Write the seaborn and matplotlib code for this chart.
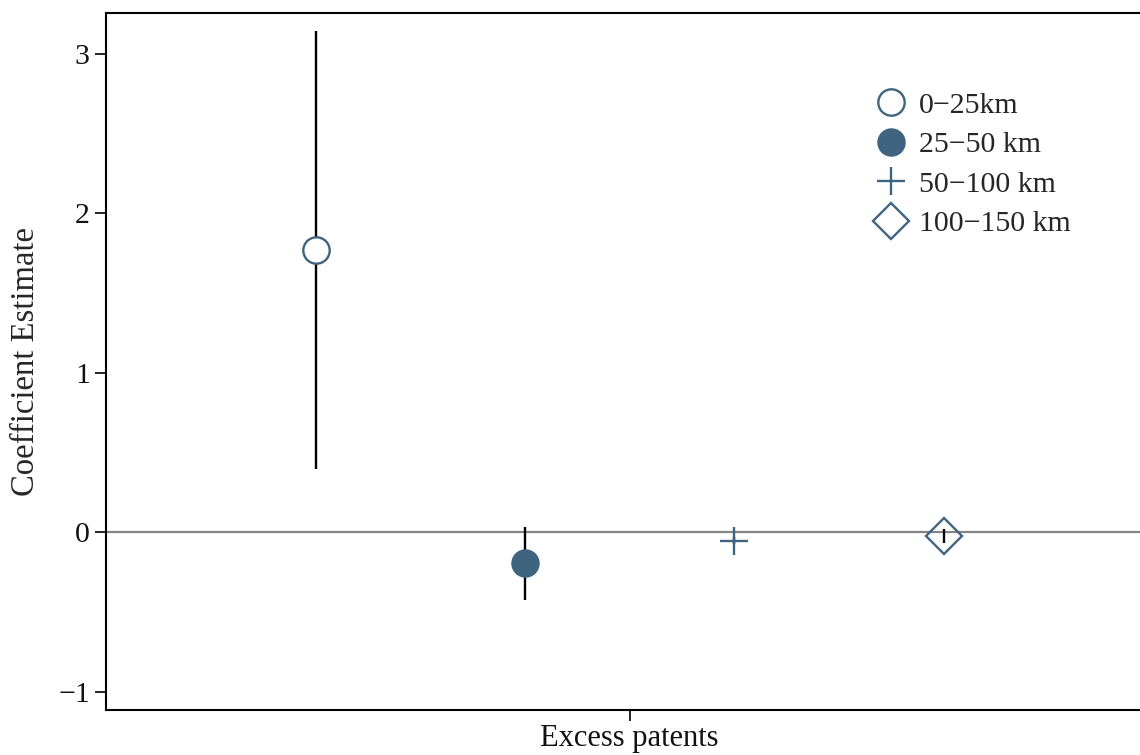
import matplotlib
matplotlib.use("Agg")
import matplotlib.pyplot as plt
from matplotlib.lines import Line2D
import seaborn as sns
import pandas as pd

# Coefficient estimates and 95% confidence bounds by distance band
bands = ["0\u221225km", "25\u221250 km", "50\u2212100 km", "100\u2212150 km"]
estimates = [1.767, -0.194, -0.053, -0.023]
ci_low = [0.396, -0.424, -0.075, -0.069]
ci_high = [3.143, 0.035, -0.031, 0.019]
outcome_label = "Excess patents"

df = pd.DataFrame({"band": bands, "estimate": estimates,
                   "lo": ci_low, "hi": ci_high})
df["pos"] = range(1, len(df) + 1)

sns.set_theme(style="ticks")
plt.rcParams["font.family"] = ["Liberation Serif", "DejaVu Serif"]
plt.rcParams["mathtext.fontset"] = "dejavuserif"

col = "#3e6480"
fig = plt.figure(figsize=(11.4, 7.55), dpi=100)
ax = fig.add_axes([0.0934, 0.0596, 0.918, 0.9232])

# reference line at zero
ax.axhline(0, color="#858585", lw=1.6, zorder=1)

# confidence intervals
ax.vlines(df["pos"], df["lo"], df["hi"], color="black", lw=1.7, zorder=2)

styles = [
    dict(marker="o", ms=19, mfc="white", mec=col, mew=1.7),
    dict(marker="o", ms=20.5, mfc=col, mec=col, mew=0),
    dict(marker="+", ms=20, mfc=col, mec=col, mew=1.7),
    dict(marker="D", ms=18.5, mfc="none", mec=col, mew=1.7),
]

handles = []
for (_, row), st in zip(df.iterrows(), styles):
    sub = df[df["band"] == row["band"]]
    sns.lineplot(data=sub, x="pos", y="estimate", ax=ax, linestyle="none",
                 color=col, zorder=3 if st["mfc"] != "none" else 4,
                 legend=False, **st)
    handles.append(Line2D([], [], linestyle="none", color=col, **st))

ax.set_xlim(0, 5)
ax.set_ylim(-1.114, 3.256)
ax.set_yticks([-1, 0, 1, 2, 3])
ax.set_yticklabels(["\u22121", "0", "1", "2", "3"])
ax.set_xticks([2.5])
ax.set_xticklabels([outcome_label])
ax.set_xlabel("")
ax.set_ylabel("Coefficient Estimate", fontsize=23.5, labelpad=12)

ax.tick_params(axis="both", labelsize=21.5, length=8, width=1.2,
               color="black", labelcolor="#111111", pad=4)
ax.tick_params(axis="x", labelsize=22, pad=2)
for s in ax.spines.values():
    s.set_linewidth(1.5)
    s.set_color("black")

leg = ax.legend(handles, bands, loc="upper left",
                bbox_to_anchor=(0.755, 0.898), bbox_transform=fig.transFigure,
                frameon=False, fontsize=21.5, handlelength=1.0,
                handletextpad=0.45, labelspacing=0.42, borderpad=0)

fig.savefig("out.png", dpi=100)
